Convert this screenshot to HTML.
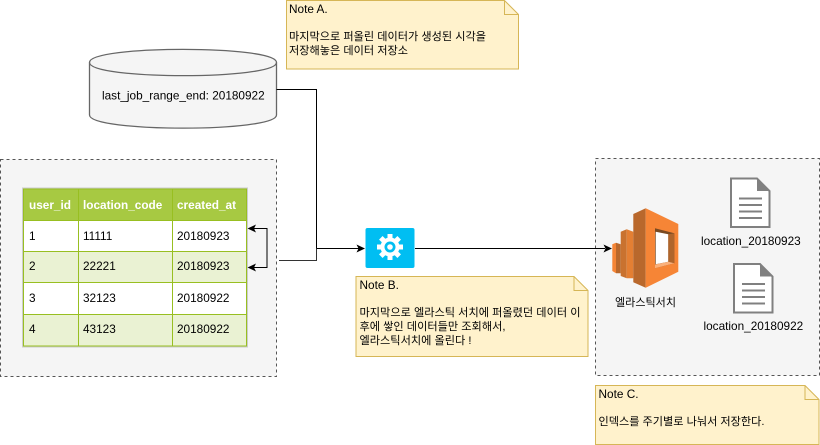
<!DOCTYPE html>
<html><head><meta charset="utf-8"><style>
html,body{margin:0;padding:0;background:#fff;width:820px;height:445px;overflow:hidden}
svg{display:block}
text{font-family:"Liberation Sans","Noto Sans CJK KR",sans-serif;font-size:11.8px;fill:#000}
.h{font-weight:bold;fill:#fff}
.k{font-size:11px}
</style></head><body>
<svg width="820" height="445" viewBox="0 0 820 445" xmlns="http://www.w3.org/2000/svg">
<!-- containers -->
<rect x="0.5" y="159.5" width="276" height="217" fill="#f5f5f5" stroke="#555" stroke-dasharray="3 3"/>
<rect x="595.5" y="158.5" width="224" height="217" fill="#f5f5f5" stroke="#555" stroke-dasharray="3 3"/>
<!-- Note A -->
<path d="M286.5 0.5H504.5L518.5 14.5V69H286.5Z" fill="#fff2cc" stroke="#d6b656"/>
<path d="M504.5 0.5V14.5H518.5" fill="none" stroke="#d6b656"/>
<text x="289" y="13">Note A.</text>
<text class="k" x="289" y="40" textLength="197" lengthAdjust="spacingAndGlyphs">마지막으로 퍼올린 데이터가 생성된 시각을</text>
<text class="k" x="289" y="54" textLength="119" lengthAdjust="spacingAndGlyphs">저장해놓은 데이터 저장소</text>
<!-- Cylinder -->
<path d="M89.5 62.5C89.5 45 276.5 45 276.5 62.5V115C276.5 132.5 89.5 132.5 89.5 115Z" fill="#f5f5f5" stroke="#666" stroke-width="1.3"/>
<path d="M89.5 62.5C89.5 80 276.5 80 276.5 62.5" fill="none" stroke="#666" stroke-width="1.3"/>
<text x="102" y="99.5">last_job_range_end: 20180922</text>
<!-- Table -->
<rect x="22.5" y="188" width="225" height="159" fill="none" stroke="#ccc"/>
<rect x="23.5" y="189" width="223" height="31" fill="#a7c942"/>
<rect x="23.5" y="220" width="223" height="31" fill="#fff"/>
<rect x="23.5" y="251" width="223" height="31.5" fill="#eaf2d3"/>
<rect x="23.5" y="282.5" width="223" height="32" fill="#fff"/>
<rect x="23.5" y="314.5" width="223" height="31.5" fill="#eaf2d3"/>
<path d="M23.5 189H246.5V346H23.5ZM23.5 220.5H246.5M23.5 251.5H246.5M23.5 282.5H246.5M23.5 314.5H246.5M78.5 189V346M172.5 189V346" fill="none" stroke="#98bf21"/>
<text class="h" x="29" y="209">user_id</text><text class="h" x="83" y="209">location_code</text><text class="h" x="177" y="209">created_at</text>
<text x="29" y="240">1</text><text x="83" y="240">11111</text><text x="177" y="240">20180923</text>
<text x="29" y="270">2</text><text x="83" y="270">22221</text><text x="177" y="270">20180923</text>
<text x="29" y="302">3</text><text x="83" y="302">32123</text><text x="177" y="302">20180922</text>
<text x="29" y="333">4</text><text x="83" y="333">43123</text><text x="177" y="333">20180922</text>
<!-- connectors -->
<path d="M254 228.5H267V267.5H254" fill="none" stroke="#000"/>
<path d="M247.5 228.5L256 224.5L254 228.5L256 232.5ZM247.5 267.5L256 263.5L254 267.5L256 271.5Z" fill="#000"/>
<path d="M276.5 89.5H316.5V248.5H359" fill="none" stroke="#000"/>
<path d="M279 260.5H316.5V248.5" fill="none" stroke="#333"/>
<path d="M365 248.5L356.5 244.5L358.5 248.5L356.5 252.5Z" fill="#000"/>
<path d="M415 248.5H605" fill="none" stroke="#000"/>
<path d="M612 248.5L603.5 244.5L605.5 248.5L603.5 252.5Z" fill="#000"/>
<!-- gear -->
<rect x="365.5" y="228" width="49" height="40" rx="2" fill="#00bef2"/>
<g fill="#fff" transform="translate(390 247)">
<circle r="9.5"/>
<rect x="-2.5" y="-13" width="5" height="6"/>
<rect x="-2.5" y="-13" width="5" height="6" transform="rotate(45)"/>
<rect x="-2.5" y="-13" width="5" height="6" transform="rotate(90)"/>
<rect x="-2.5" y="-13" width="5" height="6" transform="rotate(135)"/>
<rect x="-2.5" y="-13" width="5" height="6" transform="rotate(180)"/>
<rect x="-2.5" y="-13" width="5" height="6" transform="rotate(225)"/>
<rect x="-2.5" y="-13" width="5" height="6" transform="rotate(270)"/>
<rect x="-2.5" y="-13" width="5" height="6" transform="rotate(315)"/>
<circle r="5.5" fill="#00bef2"/>
<circle r="2.8"/>
</g>
<!-- Note B -->
<path d="M356 276.5H574L588 290.5V356.5H356Z" fill="#fff2cc" stroke="#d6b656"/>
<path d="M574 276.5V290.5H588" fill="none" stroke="#d6b656"/>
<text x="359.5" y="289">Note B.</text>
<text class="k" x="359.5" y="316" textLength="221" lengthAdjust="spacingAndGlyphs">마지막으로 엘라스틱 서치에 퍼올렸던 데이터 이</text>
<text class="k" x="359.5" y="330" textLength="146" lengthAdjust="spacingAndGlyphs">후에 쌓인 데이터들만 조회해서,</text>
<text class="k" x="359.5" y="344" textLength="112" lengthAdjust="spacingAndGlyphs">엘라스틱서치에 올린다 !</text>
<!-- Elasticsearch icon -->
<path d="M612.3 244.3L616 242.7V273.3L612.3 271Z" fill="#f58536"/>
<path d="M616 242.7L620.7 244.3V273.3H616Z" fill="#b9682c"/>
<path d="M620.7 231.7L626.7 229.3V278.3L620.7 276Z" fill="#c9722f"/>
<path d="M626.7 229.3L633.3 231.7V278.3H626.7Z" fill="#e47f33"/>
<path d="M633.3 214L645.7 208.3V287.7L633.3 282.3Z" fill="#b9682c"/>
<path d="M645.7 208.3L678.3 224V271.7L645.7 287.7Z" fill="#f68536"/>
<path d="M655 228.3L674.3 233.3V263.3L655 268.3Z" fill="#7a4a22"/>
<path d="M655.7 231.7L668.3 234.3V261.7L655.7 264.3Z" fill="#fff"/>
<path d="M668.3 234.3L674.3 233.3V263.3L668.3 261.7Z" fill="#b0652b"/>
<path d="M655 264.5L668.3 261.7L674.3 263.3L655 268.3Z" fill="#fbb07a"/>
<text class="k" x="615" y="306" textLength="61" lengthAdjust="spacingAndGlyphs">엘라스틱서치</text>
<!-- Documents -->
<g>
<path d="M731 178.5H757L769.5 191V227H731Z" fill="#fff" stroke="#808080" stroke-width="2"/>
<path d="M757 178L770 191H757Z" fill="#808080"/>
<path d="M739 198.5H762M739 205H762M739 211.5H762M739 218H762" stroke="#808080" stroke-width="2" fill="none"/>
</g>
<g transform="translate(3 85.5)">
<path d="M731 178.5H757L769.5 191V227H731Z" fill="#fff" stroke="#808080" stroke-width="2"/>
<path d="M757 178L770 191H757Z" fill="#808080"/>
<path d="M739 198.5H762M739 205H762M739 211.5H762M739 218H762" stroke="#808080" stroke-width="2" fill="none"/>
</g>
<text x="701" y="245">location_20180923</text>
<text x="703.5" y="330">location_20180922</text>
<!-- Note C -->
<path d="M595.5 385.5H805L819 399.5V444.5H595.5Z" fill="#fff2cc" stroke="#d6b656"/>
<path d="M805 385.5V399.5H819" fill="none" stroke="#d6b656"/>
<text x="598.5" y="398">Note C.</text>
<text class="k" x="598.5" y="425" textLength="166" lengthAdjust="spacingAndGlyphs">인덱스를 주기별로 나눠서 저장한다.</text>
</svg>
</body></html>
